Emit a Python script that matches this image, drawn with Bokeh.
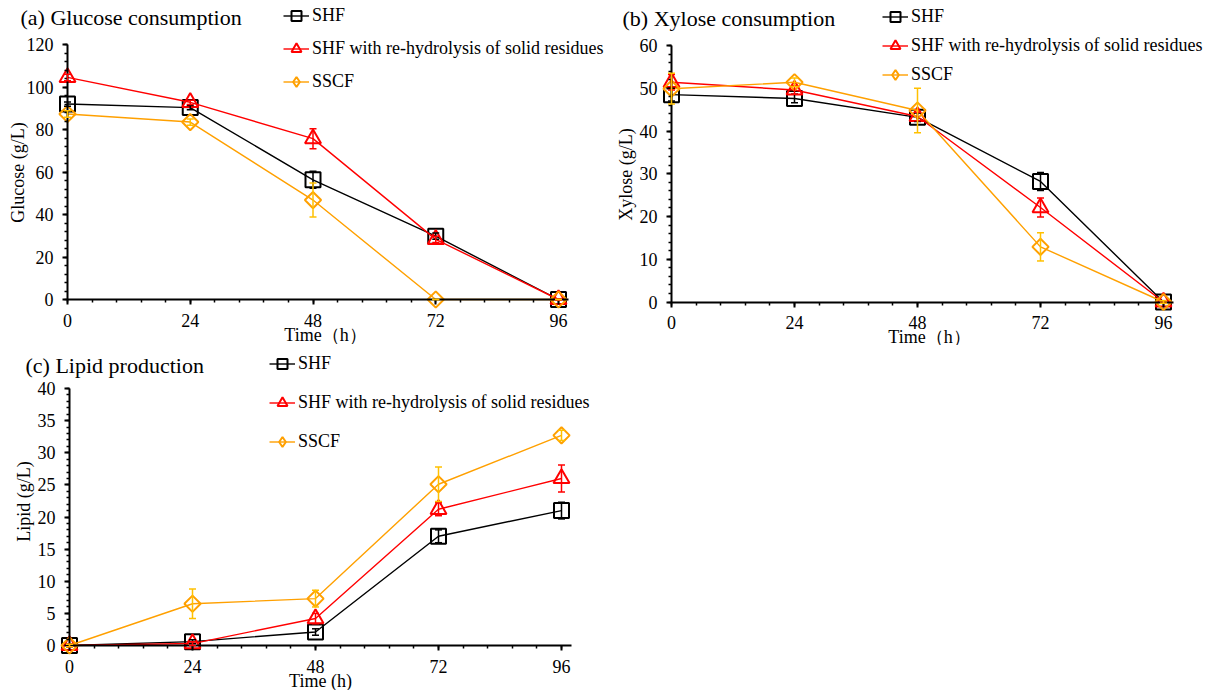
import math

from bokeh.embed import file_html
from bokeh.layouts import column, row
from bokeh.models import (ColumnDataSource, FixedTicker, Label, Legend,
                          LegendItem, Range1d, TeeHead, Whisker)
from bokeh.plotting import figure
from bokeh.resources import INLINE

# ---- data -------------------------------------------------------------
time_h = [0, 24, 48, 72, 96]
x_tick_labels = ["0", "24", "48", "72", "96"]
series_names = ["SHF", "SHF with re-hydrolysis of solid residues", "SSCF"]

glucose_shf = [92.0, 90.3, 56.3, 29.8, 0.0]
glucose_shf_err = [1.0, 1.0, 4.0, 1.5, 0.3]
glucose_rehyd = [104.5, 92.8, 75.7, 28.3, 0.0]
glucose_rehyd_err = [1.5, 1.0, 4.7, 1.5, 0.3]
glucose_sscf = [87.3, 83.5, 46.8, 0.0, 0.0]
glucose_sscf_err = [1.5, 1.5, 8.0, 0.0, 0.0]

xylose_shf = [48.5, 47.6, 43.2, 28.2, 0.0]
xylose_shf_err = [1.5, 1.0, 1.0, 2.1, 0.3]
xylose_rehyd = [51.4, 49.6, 43.4, 22.1, 0.0]
xylose_rehyd_err = [1.8, 1.0, 1.0, 2.2, 0.3]
xylose_sscf = [49.9, 51.4, 44.8, 12.9, 0.0]
xylose_sscf_err = [3.6, 1.0, 5.2, 3.3, 0.3]

lipid_shf = [0.0, 0.6, 2.1, 17.0, 21.0]
lipid_shf_err = [0.2, 0.3, 0.5, 1.0, 1.3]
lipid_rehyd = [0.0, 0.3, 4.2, 21.2, 26.0]
lipid_rehyd_err = [0.2, 0.3, 0.8, 1.0, 2.1]
lipid_sscf = [0.0, 6.5, 7.3, 25.1, 32.7]
lipid_sscf_err = [0.2, 2.3, 1.3, 2.7, 0.8]

# ---- styling ----------------------------------------------------------
SERIF = "Liberation Serif"
# plot marker / legend marker per series (legend markers are never rotated,
# so the SSCF diamond uses Bokeh's own diamond shape there)
STYLES = [
    dict(color="#000000", err="#000000", marker="square", size=15, angle=0.0,
         legend_marker=None),
    dict(color="#FF0000", err="#FF0000", marker="triangle", size=16, angle=0.0,
         legend_marker=None),
    dict(color="#FFA000", err="#FFC000", marker="square", size=11.5, angle=math.pi / 4,
         legend_marker="diamond"),
]

PANEL_W, PANEL_H = 606, 345
ROW_H = 25


def make_panel(geom, title, ylabel, xlabel, y_max, y_major, y_minor_step, series,
               title_pos, ylabel_pos, xlabel_pos, legend_pos, legend_spacing):
    """geom = (x of t=0, x of t=96, y of value 0, y of value y_max) in page px;
    the frame fills the whole panel so markers on the axes are not cut."""
    off_x, off_y = geom["offset"]
    x0, x96, y0, ytop = geom["x0"], geom["x96"], geom["y0"], geom["ytop"]
    kx = (x96 - x0) / 96.0
    ky = (y0 - ytop) / y_max
    x_start = -(x0 - off_x) / kx
    x_end = x_start + PANEL_W / kx
    y_end = (y0 - off_y) / ky
    y_start = y_end - PANEL_H / ky

    def to_data(px, py):
        return x_start + (px - off_x) / kx, y_end - (py - off_y) / ky

    p = figure(width=PANEL_W, height=PANEL_H, output_backend="svg",
               toolbar_location=None,
               x_range=Range1d(x_start, x_end), y_range=Range1d(y_start, y_end),
               min_border=0)
    p.title = None
    p.outline_line_color = None
    p.grid.visible = False
    p.background_fill_color = "white"
    p.border_fill_color = "white"

    x_minor = [4.8 * i for i in range(21)]
    p.xaxis.ticker = FixedTicker(ticks=time_h, minor_ticks=x_minor)
    p.xaxis.major_label_overrides = {t: s for t, s in zip(time_h, x_tick_labels)}
    n_minor = int(round(y_max / y_minor_step))
    p.yaxis.ticker = FixedTicker(ticks=y_major,
                                 minor_ticks=[y_minor_step * i for i in range(n_minor + 1)])
    p.xaxis.fixed_location = 0
    p.yaxis.fixed_location = 0
    p.xaxis.bounds = (0, 98)
    p.yaxis.bounds = (0, y_max)

    for ax in (p.xaxis[0], p.yaxis[0]):
        ax.axis_line_color = "black"
        ax.axis_line_width = 2
        ax.major_tick_line_color = "black"
        ax.major_tick_line_width = 2
        ax.minor_tick_line_color = "black"
        ax.minor_tick_line_width = 1.5
        ax.major_tick_in = 0
        ax.major_tick_out = 5
        ax.minor_tick_in = 0
        ax.minor_tick_out = 3
        ax.major_label_text_font = SERIF
        ax.major_label_text_font_size = "18px"
        ax.major_label_text_color = "black"
    p.xaxis.major_label_standoff = 9
    p.yaxis.major_label_standoff = 9

    # panel title and axis titles
    tx, ty = to_data(*title_pos)
    p.add_layout(Label(x=tx, y=ty, text=title, text_font=SERIF,
                       text_font_size="22px", text_color="black",
                       text_align="left", text_baseline="middle"))
    lx, ly = to_data(*ylabel_pos)
    p.add_layout(Label(x=lx, y=ly, text=ylabel, text_font=SERIF,
                       text_font_size="18px", text_color="black", angle=math.pi / 2,
                       text_align="center", text_baseline="middle"))
    bx, by = to_data(*xlabel_pos)
    p.add_layout(Label(x=bx, y=by, text=xlabel, text_font=SERIF,
                       text_font_size="18px", text_color="black",
                       text_align="center", text_baseline="middle"))

    items = []
    for name, (vals, errs), st in zip(series_names, series, STYLES):
        src = ColumnDataSource(dict(
            x=time_h, y=vals,
            upper=[v + e for v, e in zip(vals, errs)],
            lower=[v - e for v, e in zip(vals, errs)],
        ))
        ln = p.line("x", "y", source=src, line_color=st["color"], line_width=1.4)
        sc = p.scatter("x", "y", source=src, marker=st["marker"], size=st["size"],
                       angle=st["angle"], line_color=st["color"], line_width=2,
                       fill_alpha=0)
        wh = Whisker(base="x", upper="upper", lower="lower", source=src,
                     dimension="height", line_color=st["err"], line_width=1.5,
                     upper_head=TeeHead(size=7, line_color=st["err"], line_width=1.5),
                     lower_head=TeeHead(size=7, line_color=st["err"], line_width=1.5),
                     level="overlay")
        p.add_layout(wh)
        key = sc
        if st["legend_marker"]:
            # legend key glyph: zero-size in the plot, the legend sizes it itself
            key = p.scatter("x", "y", source=src, marker=st["legend_marker"], size=0,
                            line_color=st["color"], line_width=2, fill_alpha=0)
        items.append(LegendItem(label=name, renderers=[ln, key]))

    # legend tuple location is the legend's bottom-left corner, from the
    # frame's bottom-left; gx, gy = page px of first glyph's left edge / row centre
    gx, gy = legend_pos
    last_centre = gy + (len(items) - 1) * (ROW_H + legend_spacing)
    legend = Legend(items=items,
                    location=(gx - off_x, PANEL_H - (last_centre + ROW_H / 2 - off_y)),
                    orientation="vertical",
                    padding=0, margin=0, spacing=legend_spacing,
                    glyph_width=26, glyph_height=ROW_H, label_height=ROW_H,
                    label_standoff=3, border_line_color=None,
                    background_fill_alpha=0,
                    label_text_font=SERIF, label_text_font_size="18px",
                    label_text_color="black")
    p.add_layout(legend, "center")
    return p


pa = make_panel(dict(offset=(0, 0), x0=67, x96=558, y0=299, ytop=44),
                "(a) Glucose consumption", "Glucose (g/L)", "Time\uff08h\uff09",
                120, [0, 20, 40, 60, 80, 100, 120], 4,
                [(glucose_shf, glucose_shf_err), (glucose_rehyd, glucose_rehyd_err),
                 (glucose_sscf, glucose_sscf_err)],
                (20, 17), (17, 172), (325, 334), (283, 15), 8)

pb = make_panel(dict(offset=(606, 0), x0=671, x96=1163, y0=301.5, ytop=45),
                "(b) Xylose consumption", "Xylose (g/L)", "Time\uff08h\uff09",
                60, [0, 10, 20, 30, 40, 50, 60], 2,
                [(xylose_shf, xylose_shf_err), (xylose_rehyd, xylose_rehyd_err),
                 (xylose_sscf, xylose_sscf_err)],
                (622, 18), (625, 174), (929, 336), (882, 16), 4)

pc = make_panel(dict(offset=(0, 345), x0=69, x96=561, y0=645, ytop=388),
                "(c) Lipid production", "Lipid (g/L)", "Time (h)",
                40, [0, 5, 10, 15, 20, 25, 30, 35, 40], 1,
                [(lipid_shf, lipid_shf_err), (lipid_rehyd, lipid_rehyd_err),
                 (lipid_sscf, lipid_sscf_err)],
                (25, 365), (23, 501), (320, 680), (269, 363), 14)

layout = column(row(pa, pb), pc)

with open("out.html", "w") as f:
    f.write(file_html(layout, INLINE))
